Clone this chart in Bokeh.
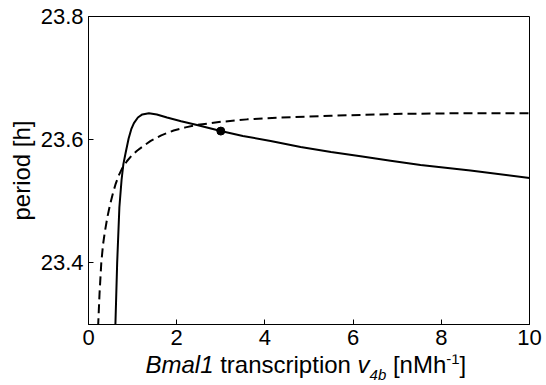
from bokeh.plotting import figure
from bokeh.models import Range1d, FixedTicker, PrintfTickFormatter, Label
from bokeh.layouts import column
from bokeh.embed import file_html
from bokeh.resources import INLINE

# --- data ---
solid_x = [0.59, 0.61, 0.65, 0.70, 0.75, 0.79, 0.84, 0.91, 0.97, 1.03, 1.12, 1.22, 1.37,
           1.55, 1.78, 2.10, 2.46, 3.00, 3.50, 4.13, 4.81, 5.50, 6.17, 6.85, 7.53, 8.66, 10.0]
solid_y = [23.25, 23.30, 23.40, 23.49, 23.535, 23.560, 23.578, 23.602, 23.617, 23.627, 23.636,
           23.641, 23.643, 23.641, 23.636, 23.630, 23.624, 23.614, 23.606, 23.598, 23.588,
           23.580, 23.573, 23.566, 23.559, 23.550, 23.538]
dash_x = [0.20, 0.22, 0.25, 0.29, 0.33, 0.37, 0.43, 0.49, 0.55, 0.61, 0.68, 0.76, 0.87, 0.99,
          1.10, 1.25, 1.41, 1.65, 1.93, 2.20, 2.46, 3.00, 3.60, 4.35, 5.50, 7.14, 8.50, 10.0]
dash_y = [23.25, 23.30, 23.35, 23.40, 23.43, 23.450, 23.475, 23.495, 23.512, 23.527, 23.541,
          23.553, 23.565, 23.575, 23.582, 23.590, 23.598, 23.607, 23.615, 23.620, 23.624,
          23.629, 23.633, 23.636, 23.639, 23.642, 23.643, 23.643]
dot_x = [3.0]
dot_y = [23.614]
x_ticks = [0, 2, 4, 6, 8, 10]
y_ticks = [23.4, 23.6, 23.8]

FONT = "Liberation Sans"
TICK_PX = 22
LAB_PX = 24
SUB_PX = 15

p = figure(width=546, height=354, output_backend="svg", toolbar_location=None,
           x_range=Range1d(0, 10), y_range=Range1d(23.3, 23.8),
           min_border_left=88, min_border_right=17, min_border_top=16, min_border_bottom=30)
p.grid.visible = False
p.outline_line_color = "black"
p.outline_line_width = 1
p.background_fill_color = "white"
p.border_fill_color = "white"

for ax in (p.xaxis[0], p.yaxis[0]):
    ax.axis_line_color = "black"
    ax.axis_line_width = 1
    ax.major_tick_in = 5
    ax.major_tick_out = 0
    ax.major_tick_line_color = "black"
    ax.minor_tick_line_color = None
    ax.major_label_text_font = FONT
    ax.major_label_text_font_size = f"{TICK_PX}px"
    ax.major_label_text_color = "black"

p.xaxis.ticker = FixedTicker(ticks=x_ticks)
p.yaxis.ticker = FixedTicker(ticks=y_ticks)
p.yaxis.formatter = PrintfTickFormatter(format="%.1f")
p.xaxis.major_label_standoff = 5
p.yaxis.major_label_standoff = 5

p.yaxis.axis_label = "period [h]"
p.yaxis.axis_label_text_font = FONT
p.yaxis.axis_label_text_font_size = f"{LAB_PX}px"
p.yaxis.axis_label_text_font_style = "normal"
p.yaxis.axis_label_text_color = "black"
p.yaxis.axis_label_standoff = 3

p.line(solid_x, solid_y, line_color="black", line_width=2)
p.line(dash_x, dash_y, line_color="black", line_width=2, line_dash="9 5")
p.scatter(dot_x, dot_y, size=8, color="black")

# x-axis label strip (italic gene name, subscript, superscript) as its own small canvas,
# whose frame lines up with the main frame (88 px left, 17 px right)
lab = figure(width=546, height=31, output_backend="svg", toolbar_location=None,
             x_range=Range1d(0, 441), y_range=Range1d(0, 31),
             x_axis_type=None, y_axis_type=None,
             min_border_left=88, min_border_right=17, min_border_top=0, min_border_bottom=0)
lab.grid.visible = False
lab.outline_line_color = None
lab.background_fill_color = "white"
lab.border_fill_color = "white"

W = {"B": 667, "m": 833, "a": 556, "l": 222, "1": 556, " ": 278, "t": 278, "r": 333,
     "n": 556, "s": 500, "c": 500, "i": 222, "p": 556, "o": 556, "v": 500, "4": 556,
     "b": 556, "[": 278, "M": 833, "h": 556, "-": 333, "]": 278}

def tw(s, px):
    return sum(W[c] for c in s) * px / 1000.0

# (text, size, style, label y in strip, space before)
pieces = [("Bmal1", LAB_PX, "italic", 21, False), ("transcription", LAB_PX, "normal", 21, True),
          ("v", LAB_PX, "italic", 21, True), ("4b", SUB_PX, "italic", 11.5, False),
          ("[nMh", LAB_PX, "normal", 21, True), ("-1", SUB_PX, "normal", 26.5, False),
          ("]", LAB_PX, "normal", 21, False)]
x0 = 145 - 88
for s, px, style, yy, sp in pieces:
    if sp:
        x0 += tw(" ", LAB_PX)
    lab.add_layout(Label(x=x0, y=yy, text=s,
                         text_font=FONT, text_font_size=f"{px}px", text_font_style=style,
                         text_color="black", text_baseline="alphabetic", text_align="left"))
    x0 += tw(s, px)

layout = column(p, lab, spacing=0)
open("out.html", "w").write(file_html(layout, INLINE))
